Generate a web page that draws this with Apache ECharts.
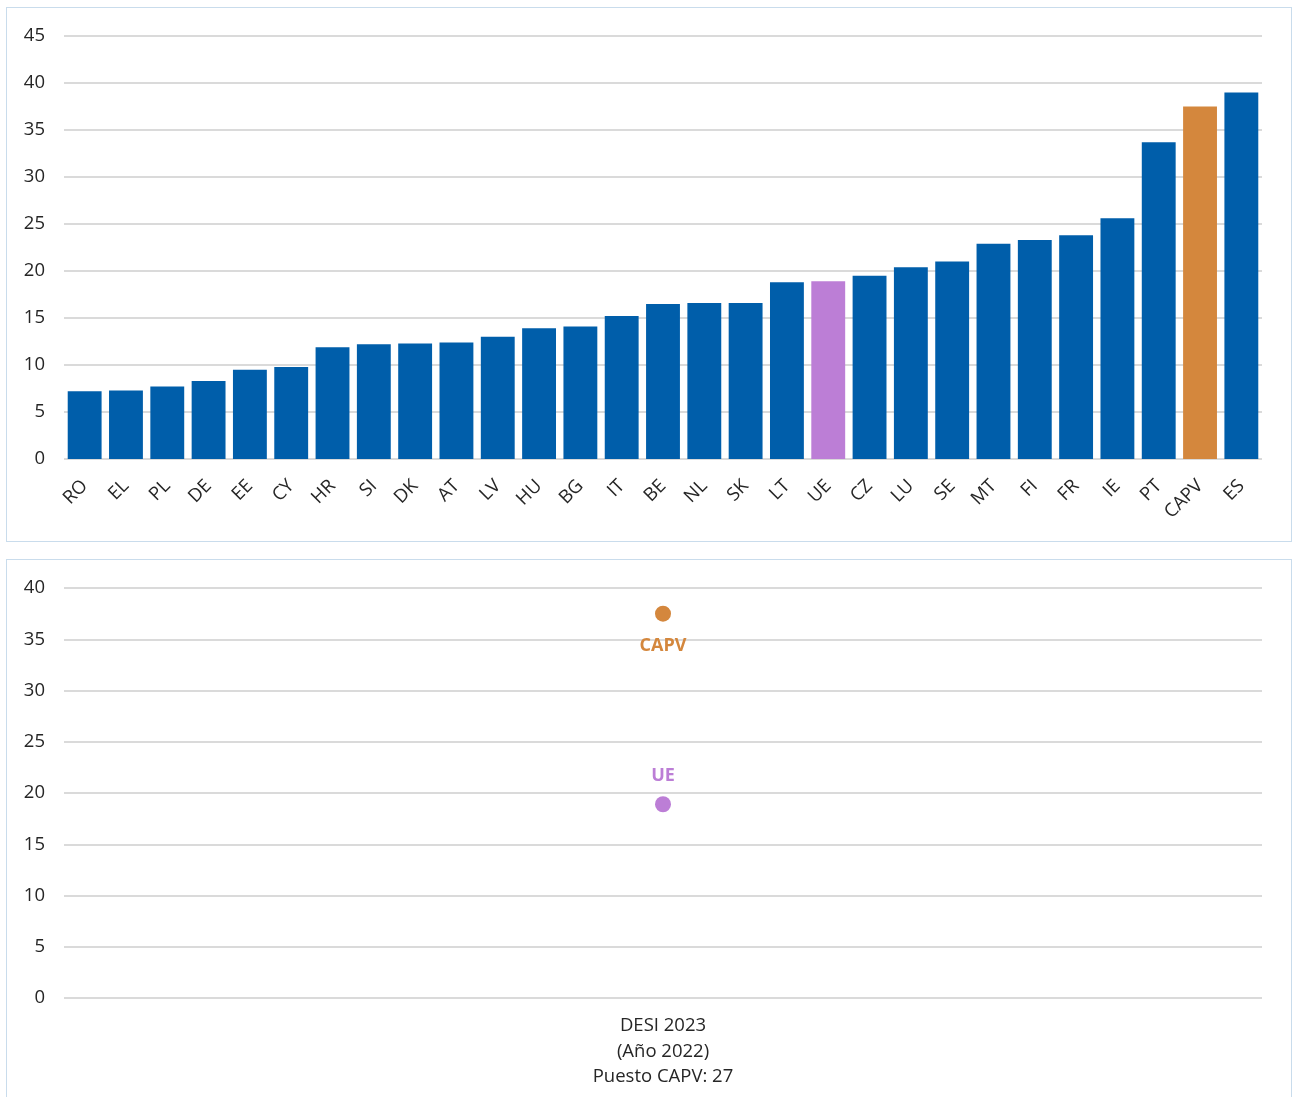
<!DOCTYPE html>
<html>
<head>
<meta charset="utf-8">
<script src="https://cdn.jsdelivr.net/npm/echarts@6/dist/echarts.min.js"></script>
<style>
  html, body { margin: 0; padding: 0; background: #ffffff; }
  body { width: 1292px; height: 1097px; position: relative; overflow: hidden; }
  .panel { position: absolute; left: 6px; width: 1286px; border: 1px solid #c9dcec; background: #fff; box-sizing: border-box; }
  #top { top: 7px; height: 535px; }
  #bottom { top: 559px; height: 560px; }
</style>
</head>
<body>
<div id="top" class="panel"></div>
<div id="bottom" class="panel"></div>
<script>
// Country codes, ordered by value
const countries = ['RO','EL','PL','DE','EE','CY','HR','SI','DK','AT','LV','HU','BG','IT','BE','NL','SK','LT','UE','CZ','LU','SE','MT','FI','FR','IE','PT','CAPV','ES'];
const values = [7.2, 7.3, 7.7, 8.3, 9.5, 9.8, 11.9, 12.2, 12.3, 12.4, 13.0, 13.9, 14.1, 15.2, 16.5, 16.6, 16.6, 18.8, 18.9, 19.5, 20.4, 21.0, 22.9, 23.3, 23.8, 25.6, 33.7, 37.5, 39.0];

// Comparison panel
const compareCategory = ['DESI 2023\n(Año 2022)\nPuesto CAPV: 27'];
const capvValue = [37.5];
const ueValue = [18.9];

const topTicks = { min: 0, max: 45, interval: 5 };
const bottomTicks = { min: 0, max: 40, interval: 5 };

const BLUE = '#005eaa';
const ORANGE = '#d4873d';
const PURPLE = '#bc7ed6';
const FONT = "'Open Sans', 'Noto Sans', sans-serif";
const TEXT = '#262626';
const FS = 18.5;
const GRID_LINE = { lineStyle: { color: '#dadada', width: 2 } };

function barColor(name) {
  if (name === 'CAPV') return ORANGE;
  if (name === 'UE') return PURPLE;
  return BLUE;
}

const topChart = echarts.init(document.getElementById('top'), null, { renderer: 'canvas' });
topChart.setOption({
  animation: false,
  grid: { left: 57, right: 29, top: 28, bottom: 82 },
  xAxis: {
    type: 'category',
    data: countries,
    axisLine: { show: false },
    axisTick: { show: false },
    axisLabel: { rotate: 45, color: TEXT, fontSize: FS, fontFamily: FONT, margin: 24, interval: 0 }
  },
  yAxis: {
    type: 'value',
    min: topTicks.min, max: topTicks.max, interval: topTicks.interval,
    axisLine: { show: false },
    axisTick: { show: false },
    axisLabel: { color: TEXT, fontSize: FS, fontFamily: FONT, margin: 19 },
    splitLine: GRID_LINE
  },
  series: [{
    type: 'bar',
    data: values.map((v, i) => ({ value: v, itemStyle: { color: barColor(countries[i]) } })),
    barCategoryGap: '18%'
  }]
});

const bottomChart = echarts.init(document.getElementById('bottom'), null, { renderer: 'canvas' });
bottomChart.setOption({
  animation: false,
  grid: { left: 57, right: 29, top: 28, bottom: 120 },
  xAxis: {
    type: 'category',
    data: compareCategory,
    axisLine: { show: false },
    axisTick: { show: false },
    axisLabel: { color: TEXT, fontSize: FS, fontFamily: FONT, lineHeight: 25.5, margin: 15 }
  },
  yAxis: {
    type: 'value',
    min: bottomTicks.min, max: bottomTicks.max, interval: bottomTicks.interval,
    axisLine: { show: false },
    axisTick: { show: false },
    axisLabel: { color: TEXT, fontSize: FS, fontFamily: FONT, margin: 19 },
    splitLine: GRID_LINE
  },
  series: [
    {
      name: 'CAPV',
      type: 'scatter',
      data: capvValue,
      symbolSize: 16,
      itemStyle: { color: ORANGE, opacity: 1 },
      label: { show: true, position: 'bottom', distance: 15, formatter: 'CAPV', color: ORANGE, fontWeight: 'bold', fontSize: 18, fontFamily: FONT }
    },
    {
      name: 'UE',
      type: 'scatter',
      data: ueValue,
      symbolSize: 16,
      itemStyle: { color: PURPLE, opacity: 1 },
      label: { show: true, position: 'top', distance: 11, formatter: 'UE', color: PURPLE, fontWeight: 'bold', fontSize: 18, fontFamily: FONT }
    }
  ]
});
</script>
</body>
</html>
